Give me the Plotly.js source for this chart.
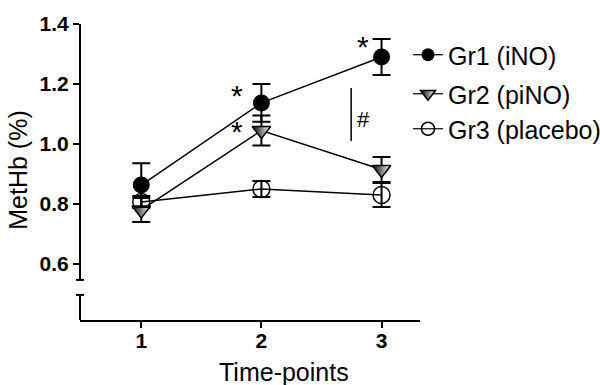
<!DOCTYPE html>
<html>
<head>
<meta charset="utf-8">
<script src="https://cdn.plot.ly/plotly-3.0.1.min.js"></script>
<style>html,body{margin:0;padding:0;background:#fff}#chart{width:600px;height:385px}</style>
</head>
<body>
<div id="chart"></div>
<script>
const timePoints = [1, 2, 3];
const gr1Values = [0.863, 1.137, 1.29];
const gr1Errors = [0.073, 0.063, 0.06];
const gr2Values = [0.78, 1.045, 0.915];
const gr2Errors = [0.04, 0.05, 0.042];
const gr3Values = [0.807, 0.85, 0.83];
const gr3Errors = [0.02, 0.027, 0.04];
const seriesNames = ['Gr1 (iNO)', 'Gr2 (piNO)', 'Gr3 (placebo)'];
const yTicks = [0.6, 0.8, 1.0, 1.2, 1.4];
const yTickText = ['0.6', '0.8', '1.0', '1.2', '1.4'];

const FONT = 'Liberation Sans, Arial, sans-serif';

function errBar(arr) {
  return {type: 'data', array: arr, visible: true, color: '#000', thickness: 2, width: 9};
}

const gr1Marker = {symbol: 'circle', color: '#000', line: {width: 0}};
const gr2Marker = {symbol: 'triangle-down', color: '#000',
                   gradient: {type: 'horizontal', color: '#fff'},
                   line: {width: 1.5, color: '#000'}};
const gr3Marker = {symbol: 'circle-open', color: '#000', line: {width: 1.5, color: '#000'}};

const traces = [
  {
    x: timePoints, y: gr3Values, name: seriesNames[2], mode: 'lines+markers', showlegend: false,
    line: {color: '#000', width: 1.5},
    marker: Object.assign({size: 17}, gr3Marker),
    error_y: errBar(gr3Errors)
  },
  {
    x: timePoints, y: gr2Values, name: seriesNames[1], mode: 'lines+markers', showlegend: false,
    line: {color: '#000', width: 1.5},
    marker: Object.assign({size: 16}, gr2Marker),
    error_y: errBar(gr2Errors)
  },
  {
    x: timePoints, y: gr1Values, name: seriesNames[0], mode: 'lines+markers', showlegend: false,
    line: {color: '#000', width: 1.5},
    marker: Object.assign({size: 17}, gr1Marker),
    error_y: errBar(gr1Errors)
  },
  // legend entries
  {x: [null], y: [null], name: seriesNames[0], mode: 'lines+markers', legend: 'legend',
   line: {color: '#000', width: 1.2}, marker: Object.assign({size: 13}, gr1Marker)},
  {x: [null], y: [null], name: seriesNames[1], mode: 'lines+markers', legend: 'legend2',
   line: {color: '#000', width: 1.2}, marker: Object.assign({size: 13}, gr2Marker)},
  {x: [null], y: [null], name: seriesNames[2], mode: 'lines+markers', legend: 'legend3',
   line: {color: '#000', width: 1.2}, marker: Object.assign({size: 13}, gr3Marker)}
];

const legendFont = {family: FONT, size: 25, color: '#000'};
function mkLegend(ypx) {
  return {xref: 'container', yref: 'container', x: 408 / 600, xanchor: 'left',
          y: 1 - ypx / 385, yanchor: 'middle', font: legendFont,
          bgcolor: 'rgba(0,0,0,0)', itemsizing: 'trace', itemwidth: 30};
}

const layout = {
  width: 600, height: 385,
  margin: {l: 80, r: 180, t: 20, b: 65, autoexpand: false},
  paper_bgcolor: '#fff', plot_bgcolor: '#fff',
  font: {family: FONT, color: '#000'},
  showlegend: true,
  legend: mkLegend(55),
  legend2: mkLegend(94),
  legend3: mkLegend(129),
  xaxis: {
    range: [0.49, 3.32], showgrid: false, zeroline: false,
    showline: true, linewidth: 2, linecolor: '#000',
    ticks: 'outside', ticklen: 6, tickwidth: 2, tickcolor: '#000',
    tickvals: timePoints, ticktext: timePoints.map(String),
    ticklabelstandoff: -5,
    tickfont: {family: FONT, size: 21, weight: 'bold', color: '#000'}
  },
  yaxis: {
    range: [0.4133, 1.4133], showgrid: false, zeroline: false, showline: false,
    ticks: 'outside', ticklen: 6, tickwidth: 2, tickcolor: '#000',
    tickvals: yTicks, ticktext: yTickText,
    tickfont: {family: FONT, size: 21, weight: 'bold', color: '#000'},
    title: {text: 'MetHb (%)', font: {family: FONT, size: 25, color: '#000'}, standoff: 4}
  },
  shapes: [
    {type: 'line', xref: 'paper', yref: 'y', x0: 0, x1: 0, y0: 0.547, y1: 1.4,
     line: {color: '#000', width: 2}},
    {type: 'line', xref: 'paper', yref: 'y', x0: 0, x1: 0, y0: 0.4133, y1: 0.497,
     line: {color: '#000', width: 2}},
    {type: 'line', xref: 'paper', xsizemode: 'pixel', xanchor: 0, x0: -4, x1: 4,
     yref: 'y', y0: 0.547, y1: 0.547, line: {color: '#000', width: 2}},
    {type: 'line', xref: 'paper', xsizemode: 'pixel', xanchor: 0, x0: -4, x1: 4,
     yref: 'y', y0: 0.497, y1: 0.497, line: {color: '#000', width: 2}},
    {type: 'line', xref: 'x', yref: 'y', x0: 2.747, x1: 2.747, y0: 1.01, y1: 1.187,
     line: {color: '#000', width: 1.5}}
  ],
  annotations: [
    {x: 1.797, y: 1.16, xref: 'x', yref: 'y', text: '*', showarrow: false,
     font: {family: FONT, size: 30, color: '#000'}},
    {x: 1.797, y: 1.04, xref: 'x', yref: 'y', text: '*', showarrow: false,
     font: {family: FONT, size: 30, color: '#000'}},
    {x: 2.846, y: 1.324, xref: 'x', yref: 'y', text: '*', showarrow: false,
     font: {family: FONT, size: 30, color: '#000'}},
    {x: 2.846, y: 1.08, xref: 'x', yref: 'y', text: '#', showarrow: false,
     font: {family: FONT, size: 22, color: '#000'}},
    {x: (284 - 80) / 340, y: (320 - 372) / 300, xref: 'paper', yref: 'paper',
     xanchor: 'center', yanchor: 'middle',
     text: 'Time-points', showarrow: false, font: {family: FONT, size: 25, color: '#000'}}
  ]
};

Plotly.newPlot('chart', traces, layout, {displayModeBar: false, staticPlot: true});
</script>
</body>
</html>
